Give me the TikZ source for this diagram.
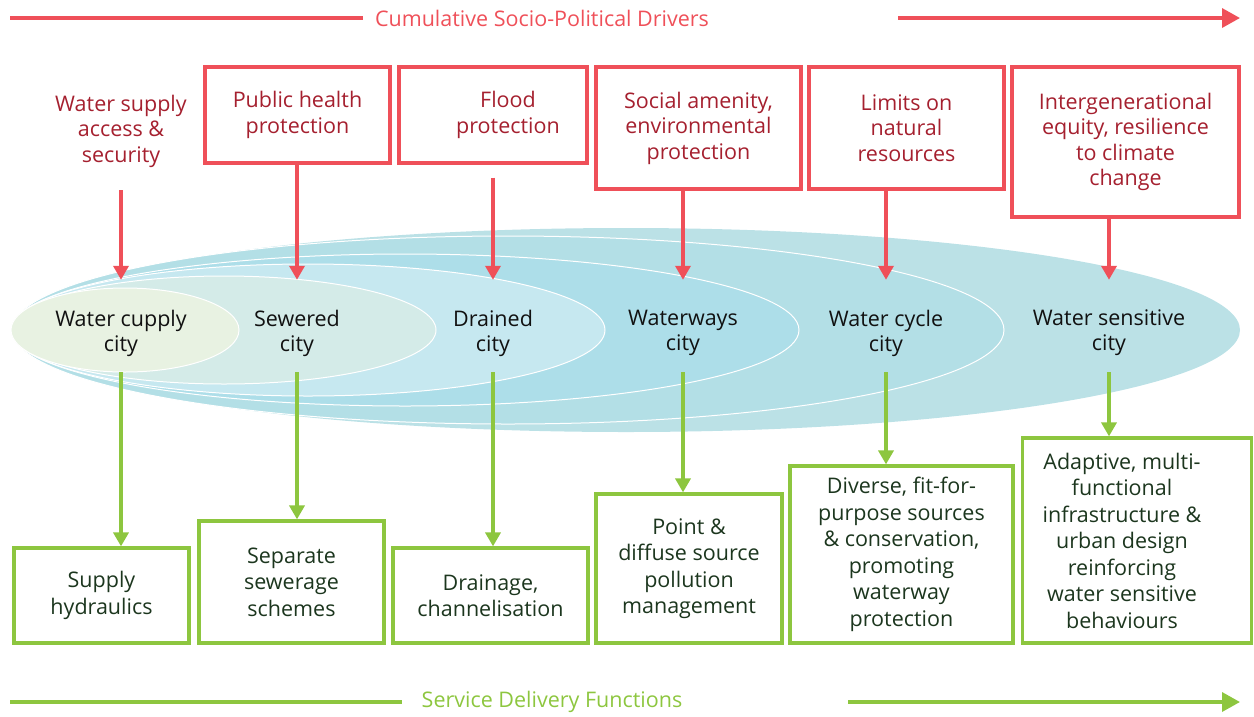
\documentclass[tikz,border=0pt]{standalone}
\usepackage{fontspec}
\setmainfont{Open Sans}
\usetikzlibrary{arrows.meta}
\definecolor{redline}{HTML}{EF5059}
\definecolor{redtext}{HTML}{A5202F}
\definecolor{grn}{HTML}{8DC63F}
\definecolor{grntext}{HTML}{1C361E}
\definecolor{citytext}{HTML}{111111}
\definecolor{eA}{HTML}{BBE1E6}
\definecolor{eB}{HTML}{B3DFE6}
\definecolor{eC}{HTML}{ADDEE9}
\definecolor{eD}{HTML}{C6E8F0}
\definecolor{eE}{HTML}{D4EBE8}
\definecolor{eF}{HTML}{E8F2E2}
\begin{document}
\begin{tikzpicture}[x=1pt,y=-1pt,
 txt/.style={font=\fontsize{21.5}{25.5}\selectfont, align=center, inner sep=0pt},
 drivertext/.style={txt, text=redtext},
 driverbox/.style={drivertext, draw=redline, line width=3.2pt},
 funcbox/.style={txt, draw=grn, line width=3.2pt, text=grntext, font=\fontsize{21.5}{26.5}\selectfont},
 city/.style={txt, text=citytext, font=\fontsize{21.5}{25}\selectfont, minimum height=92pt},
 redarrow/.style={draw=redline, line width=4pt, -{Triangle[width=15pt,length=14pt]}},
 greenarrow/.style={draw=grn, line width=4pt, -{Triangle[width=15pt,length=14pt]}},
 bigred/.style={draw=redline, line width=3.5pt},
 biggreen/.style={draw=grn, line width=3.5pt},
 ring/.style={draw=white, line width=1pt},
]
\useasboundingbox (0,0) rectangle (1254,716);

% ellipses
\fill[eA] (626,330) ellipse [x radius=614pt, y radius=102pt];
\filldraw[fill=eB, ring] (508,330) ellipse [x radius=496pt, y radius=94pt];
\filldraw[fill=eC, ring] (405,330) ellipse [x radius=394pt, y radius=76pt];
\filldraw[fill=eD, ring] (308,330) ellipse [x radius=297pt, y radius=66pt];
\filldraw[fill=eE, ring] (224,330) ellipse [x radius=212pt, y radius=54pt];
\filldraw[fill=eF, ring] (125,330) ellipse [x radius=114pt, y radius=42pt];

% header
\node[txt, text=redline] (hdr) at (542,18) {Cumulative Socio-Political Drivers};
\coordinate (hdrL) at (10,18);
\coordinate (hdrR0) at (898,18);
\coordinate (hdrR1) at (1240,18);
\draw[bigred] (hdrL) -- (hdrL -| 363,0);
\draw[bigred, -{Triangle[width=19pt,length=18pt]}] (hdrR0) -- (hdrR1);

% footer
\node[txt, text=grn] (ftr) at (552,702) {Service Delivery Functions};
\coordinate (ftrL) at (10,702);
\coordinate (ftrR0) at (848,702);
\coordinate (ftrR1) at (1240,702);
\draw[biggreen] (ftrL) -- (ftrL -| 402,0);
\draw[biggreen, -{Triangle[width=19pt,length=18pt]}] (ftrR0) -- (ftrR1);

% drivers
\node[drivertext] (d1) at (121,131) {Water supply\\access \&\\security};
\coordinate (d1s) at (121,190);
\node[driverbox, minimum width=185pt, minimum height=96pt] (d2) at (297.5,115) {Public health\\protection};
\node[driverbox, minimum width=188pt, minimum height=96pt] (d3) at (493,115) {\kern30pt Flood\\\kern30pt protection};
\node[driverbox, minimum width=205pt, minimum height=122pt] (d4) at (698.5,128) {Social amenity,\\environmental\\protection};
\node[driverbox, minimum width=195pt, minimum height=122pt] (d5) at (906.5,128) {Limits on\\natural\\resources};
\node[driverbox, minimum width=227pt, minimum height=150pt] (d6) at (1125.5,142) {Intergenerational\\equity, resilience\\to climate\\change};

% cities
\node[city] (c1) at (121,333) {Water cupply\\city};
\node[city] (c2) at (297,333) {Sewered\\city};
\node[city] (c3) at (493,333) {Drained\\city};
\node[city] (c4) at (683,333) {Waterways\\city};
\node[city] (c5) at (886,333) {Water cycle\\city};
\node[city] (c6) at (1109,333) {Water sensitive\\city};

% functions
\node[funcbox, minimum width=175pt, minimum height=95pt] (f1) at (101.5,595.5) {Supply\\hydraulics};
\node[funcbox, minimum width=185pt, minimum height=122pt] (f2) at (291.5,582) {Separate\\sewerage\\schemes};
\node[funcbox, minimum width=195pt, minimum height=95pt] (f3) at (490.5,595.5) {Drainage,\\channelisation};
\node[funcbox, minimum width=186pt, minimum height=149pt] (f4) at (689,568.5) {Point \&\\diffuse source\\pollution\\management};
\node[funcbox, minimum width=223pt, minimum height=177pt] (f5) at (901.5,554.5) {Diverse, fit-for-\\purpose sources\\\& conservation,\\promoting\\waterway\\protection};
\node[funcbox, minimum width=229pt, minimum height=205pt] (f6) at (1137,540.5) {Adaptive, multi-\kern30pt\\functional\kern30pt\\infrastructure \&\kern30pt\\urban design\kern30pt\\reinforcing\kern30pt\\water sensitive\kern30pt\\behaviours\kern30pt};

% red arrows
\draw[redarrow] (d1s) -- ([yshift=7pt]c1.north);
\draw[redarrow] (d2.south -| c2.north) -- ([yshift=7pt]c2.north);
\draw[redarrow, shorten <=13pt] (d3.south -| c3.north) -- ([yshift=7pt]c3.north);
\draw[redarrow] (d4.south -| c4.north) -- ([yshift=7pt]c4.north);
\draw[redarrow] (d5.south -| c5.north) -- ([yshift=7pt]c5.north);
\draw[redarrow] (d6.south -| c6.north) -- ([yshift=7pt]c6.north);

% green arrows
\draw[greenarrow] ([yshift=7pt]c1.south) -- (c1.south |- f1.north);
\draw[greenarrow] ([yshift=7pt]c2.south) -- (c2.south |- f2.north);
\draw[greenarrow] ([yshift=7pt]c3.south) -- (c3.south |- f3.north);
\draw[greenarrow] ([yshift=7pt]c4.south) -- (c4.south |- f4.north);
\draw[greenarrow] ([yshift=7pt]c5.south) -- (c5.south |- f5.north);
\draw[greenarrow] ([yshift=7pt]c6.south) -- (c6.south |- f6.north);
\end{tikzpicture}
\end{document}
